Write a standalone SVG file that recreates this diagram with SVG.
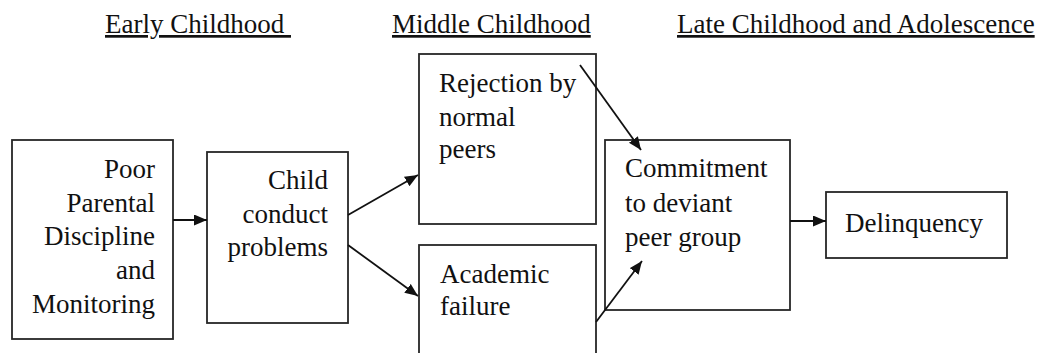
<svg xmlns="http://www.w3.org/2000/svg" width="1037" height="353" viewBox="0 0 1037 353">
<style>
.box{fill:#fff;stroke:#262626;stroke-width:1.8}
.t{font-family:"Liberation Serif","Times New Roman",serif;font-size:27px;fill:#111}
.h{font-family:"Liberation Serif","Times New Roman",serif;font-size:27px;fill:#111;text-decoration:underline}
.c{stroke:#111;stroke-width:1.8;fill:none;marker-end:url(#ah)}
</style>
<defs>
<marker id="ah" markerUnits="userSpaceOnUse" markerWidth="14" markerHeight="12" refX="13" refY="5.5" orient="auto">
<path d="M0,0 L13,5.5 L0,11 z" fill="#111"/>
</marker>
</defs>
<rect width="1037" height="353" fill="#fff"/>
<g id="headers">
<text class="h" x="105" y="33" xml:space="preserve">Early Childhood </text>
<text class="h" x="392" y="33">Middle Childhood</text>
<text class="h" x="677" y="33">Late Childhood and Adolescence</text>
</g>
<g id="node-parental">
<rect class="box" x="12" y="140" width="161" height="199"/>
<text class="t" text-anchor="end" x="155" y="178">Poor</text>
<text class="t" text-anchor="end" x="155" y="212">Parental</text>
<text class="t" text-anchor="end" x="155" y="245">Discipline</text>
<text class="t" text-anchor="end" x="155" y="279">and</text>
<text class="t" text-anchor="end" x="155" y="313">Monitoring</text>
</g>
<g id="node-conduct">
<rect class="box" x="207" y="152" width="141" height="171"/>
<text class="t" text-anchor="end" x="328" y="189">Child</text>
<text class="t" text-anchor="end" x="328" y="223">conduct</text>
<text class="t" text-anchor="end" x="328" y="256">problems</text>
</g>
<g id="node-rejection">
<rect class="box" x="419" y="54" width="177" height="170"/>
<text class="t" x="439" y="92">Rejection by</text>
<text class="t" x="439" y="126">normal</text>
<text class="t" x="439" y="158">peers</text>
</g>
<g id="node-academic">
<rect class="box" x="419" y="245" width="177" height="120"/>
<text class="t" x="440" y="283">Academic</text>
<text class="t" x="440" y="315">failure</text>
</g>
<g id="node-commitment">
<rect class="box" x="605" y="140" width="185" height="170"/>
<text class="t" x="625" y="177">Commitment</text>
<text class="t" x="625" y="212">to deviant</text>
<text class="t" x="625" y="246">peer group</text>
</g>
<g id="node-delinquency">
<rect class="box" x="826" y="192" width="181" height="66"/>
<text class="t" x="845" y="232">Delinquency</text>
</g>
<g id="connectors">
<line class="c" x1="173" y1="220" x2="207" y2="220"/>
<line class="c" x1="348" y1="215" x2="418" y2="175"/>
<line class="c" x1="348" y1="245" x2="418" y2="296"/>
<line class="c" x1="580" y1="65" x2="641" y2="150"/>
<line class="c" x1="596" y1="322" x2="642" y2="261"/>
<line class="c" x1="790" y1="221" x2="826" y2="221"/>
</g>
</svg>
